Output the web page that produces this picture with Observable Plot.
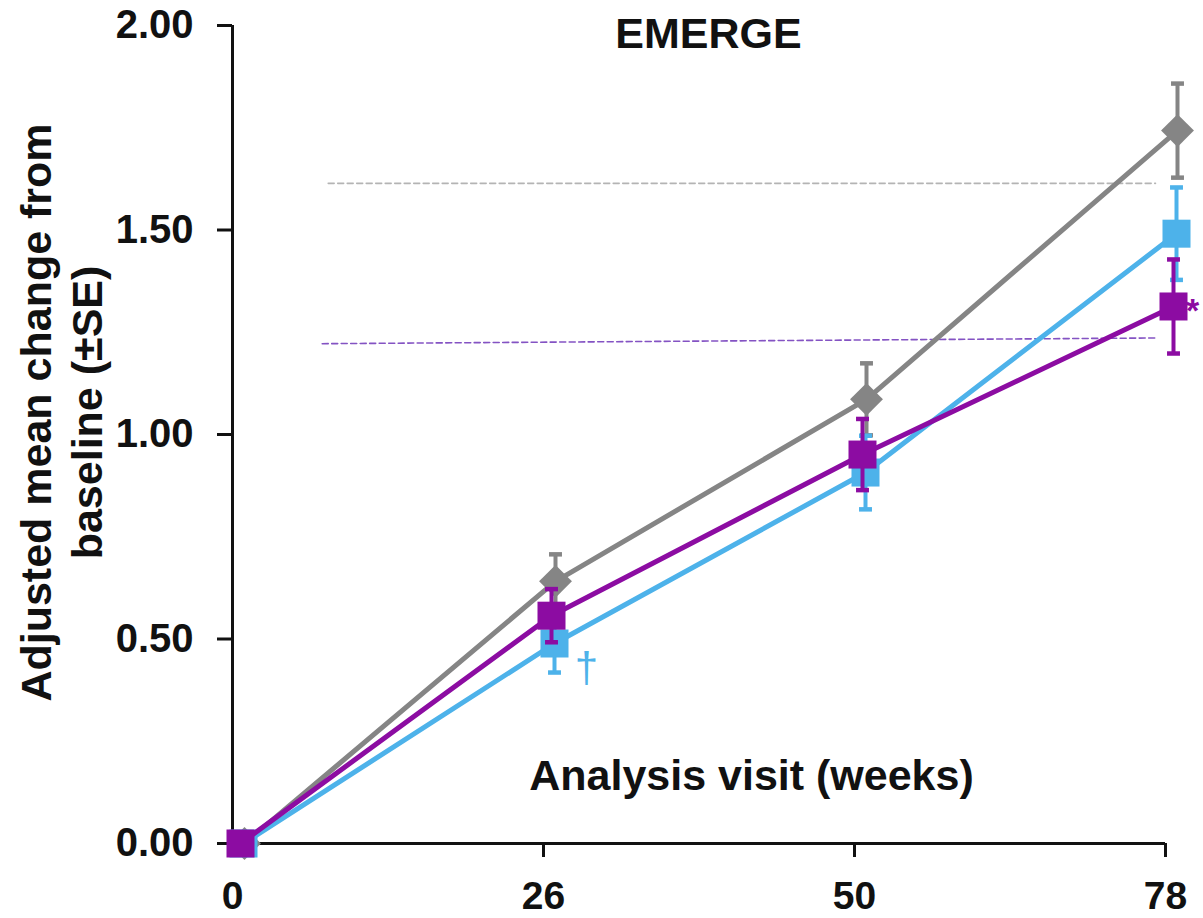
<!DOCTYPE html>
<html>
<head>
<meta charset="utf-8">
<script src="https://cdn.jsdelivr.net/npm/d3@7"></script>
<script src="https://cdn.jsdelivr.net/npm/@observablehq/plot@0.6"></script>
<style>
  html, body { margin: 0; padding: 0; background: #fff; }
</style>
</head>
<body>
<div id="chart"></div>
<script>
// ---- data ----
const weeks = [0, 26, 50, 78];
const yTicks = [0, 0.5, 1, 1.5, 2];
const titleText = "EMERGE";
const xTitle = "Analysis visit (weeks)";
const yTitle = "Adjusted mean change from\nbaseline (±SE)";

const placeboMean = [0, 0.641, 1.086, 1.743];
const placeboSE   = [0, 0.066, 0.088, 0.115];
const lowMean     = [0, 0.489, 0.907, 1.491];
const lowSE       = [0, 0.071, 0.090, 0.113];
const highMean    = [0, 0.557, 0.951, 1.313];
const highSE      = [0, 0.065, 0.087, 0.115];

// dashed reference lines
const refGrayWeeks = [8.0, 77.1];
const refGrayValues = [1.614, 1.614];
const refPurpleWeeks = [7.5, 77.2];
const refPurpleValues = [1.222, 1.236];

// significance markers
const markerDagger = {week: 26, value: lowMean[1], text: "†"};
const markerStar = {week: 78, value: highMean[3], text: "*"};

// ---- layout / style ----
const W = 1203, H = 918, ML = 232, MR = 38, MT = 25, MB = 75;
const xRange = weeks.map((_, i) => ML + i * (W - ML - MR) / (weeks.length - 1));
const GRAY = "#858585", BLUE = "#4db2ea", PURPLE = "#8c0ca2";
const FONT = "'Liberation Sans', Arial, Helvetica, sans-serif";

const series = [
  {mean: placeboMean, se: placeboSE, color: GRAY, symbol: "diamond2", r: 14.8, dx: 12},
  {mean: lowMean, se: lowSE, color: BLUE, symbol: "square", r: 15.8, dx: 11},
  {mean: highMean, se: highSE, color: PURPLE, symbol: "square", r: 15.8, dx: 8}
];

const cap = {
  draw(ctx, size) {
    const w = Math.sqrt(size);
    ctx.moveTo(-w / 2, 0);
    ctx.lineTo(w / 2, 0);
  }
};

const marks = [];

// dashed reference lines
marks.push(Plot.line(refGrayWeeks.map((w, i) => ({week: w, value: refGrayValues[i]})),
  {x: "week", y: "value", stroke: "#b4b4b4", strokeWidth: 1.6, strokeDasharray: "6,3.5"}));
marks.push(Plot.line(refPurpleWeeks.map((w, i) => ({week: w, value: refPurpleValues[i]})),
  {x: "week", y: "value", stroke: "#6f35b8", strokeWidth: 1.6, strokeDasharray: "6,3.5", strokeOpacity: 0.85}));

// axes lines
marks.push(Plot.ruleX([weeks[0]], {y1: yTicks[0], y2: yTicks[yTicks.length - 1], stroke: "#111", strokeWidth: 3}));
marks.push(Plot.ruleY([yTicks[0]], {x1: weeks[0], x2: weeks[weeks.length - 1], stroke: "#111", strokeWidth: 3}));
marks.push(Plot.axisY(yTicks, {tickSize: 15, tickPadding: 24, tickFormat: d3.format(".2f"),
  stroke: "#111", strokeWidth: 3, fontSize: 40, fontWeight: "bold", fill: "#111", label: null}));
marks.push(Plot.axisX(weeks, {tickSize: 14, tickPadding: 24, tickFormat: d => String(d),
  stroke: "#111", strokeWidth: 3, fontSize: 39, fontWeight: "bold", fill: "#111", label: null}));

// series
for (const s of series) {
  const d = weeks.map((w, i) => ({week: w, mean: s.mean[i], se: s.se[i]}));
  const e = d.filter(r => r.se > 0);
  marks.push(Plot.line(d, {x: "week", y: "mean", stroke: s.color, strokeWidth: 5, dx: s.dx}));
  marks.push(Plot.ruleX(e, {x: "week", y1: r => r.mean - r.se, y2: r => r.mean + r.se,
    stroke: s.color, strokeWidth: 4, dx: s.dx}));
  marks.push(Plot.dot(e, {x: "week", y: r => r.mean - r.se, symbol: cap, r: 7.3, fill: "none",
    stroke: s.color, strokeWidth: 4.5, dx: s.dx}));
  marks.push(Plot.dot(e, {x: "week", y: r => r.mean + r.se, symbol: cap, r: 7.3, fill: "none",
    stroke: s.color, strokeWidth: 4.5, dx: s.dx}));
  marks.push(Plot.dot(d, {x: "week", y: "mean", symbol: s.symbol, r: s.r, fill: s.color, stroke: "none", dx: s.dx}));
}

// texts
marks.push(Plot.text([titleText], {frameAnchor: "top", lineAnchor: "top", dx: 9.5, dy: -8,
  fontSize: 43, fontWeight: "bold", fill: "#111"}));
marks.push(Plot.text([xTitle], {frameAnchor: "bottom", lineAnchor: "middle", dx: 52.5, dy: -67,
  fontSize: 43, fontWeight: "bold", fill: "#111"}));
marks.push(Plot.text([yTitle], {frameAnchor: "left", textAnchor: "middle", lineAnchor: "middle", rotate: -90,
  lineHeight: 1.17, dx: -172, dy: -22, fontSize: 43, fontWeight: "bold", fill: "#111"}));
marks.push(Plot.text([markerDagger], {x: "week", y: "value", text: "text", dx: 43, dy: 25,
  fontSize: 42, fontWeight: "normal", fill: BLUE}));
marks.push(Plot.text([markerStar], {x: "week", y: "value", text: "text", dx: 27, dy: 5,
  fontSize: 34, fontWeight: "bold", fill: PURPLE}));

const chart = Plot.plot({
  width: W,
  height: H,
  marginLeft: ML,
  marginRight: MR,
  marginTop: MT,
  marginBottom: MB,
  style: {fontFamily: FONT, background: "#fff", overflow: "visible"},
  x: {type: "linear", domain: weeks, range: xRange, label: null},
  y: {type: "linear", domain: [yTicks[0], yTicks[yTicks.length - 1]], label: null},
  marks
});
document.getElementById("chart").appendChild(chart);
</script>
</body>
</html>
